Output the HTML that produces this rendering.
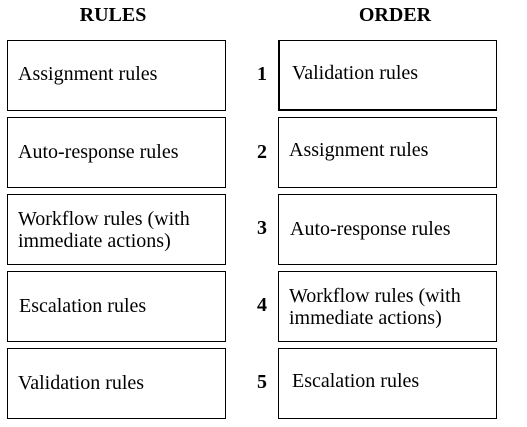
<!DOCTYPE html>
<html><head><style>
body{margin:0;width:527px;height:427px;background:#fff;position:relative;font-family:"Liberation Serif",serif;color:#000;overflow:hidden}
.h{position:absolute;top:4px;font-weight:bold;font-size:20px;width:200px;text-align:center}
.b{position:absolute;box-sizing:border-box;border:1px solid #000;width:219px;height:71px;font-size:20px;line-height:23px;display:flex;align-items:center}
.n{position:absolute;left:252px;width:20px;text-align:center;font-weight:bold;font-size:20px}
</style></head><body>
<div class="h" style="left:13px">RULES</div>
<div class="h" style="left:295px">ORDER</div>

<div class="b" style="left:7px;top:40px;padding-left:10px;padding-bottom:3px">Assignment rules</div>
<div class="b" style="left:7px;top:117px;padding-left:10px">Auto-response rules</div>
<div class="b" style="left:7px;top:194px;padding-left:10px;line-height:22px">Workflow rules (with<br>immediate actions)</div>
<div class="b" style="left:7px;top:271px;padding-left:11px">Escalation rules</div>
<div class="b" style="left:7px;top:348px;padding-left:10px">Validation rules</div>

<div class="n" style="top:63px">1</div>
<div class="n" style="top:141px">2</div>
<div class="n" style="top:217px">3</div>
<div class="n" style="top:294px">4</div>
<div class="n" style="top:371px">5</div>

<div class="b" style="left:278px;top:40px;padding-left:12px;padding-bottom:3px;border-width:1px 1px 2px 2px">Validation rules</div>
<div class="b" style="left:278px;top:117px;padding-left:10px;padding-bottom:4px">Assignment rules</div>
<div class="b" style="left:278px;top:194px;padding-left:11px">Auto-response rules</div>
<div class="b" style="left:278px;top:271px;padding-left:10px;line-height:22px">Workflow rules (with<br>immediate actions)</div>
<div class="b" style="left:278px;top:348px;padding-left:13px;padding-bottom:4px">Escalation rules</div>
</body></html>
